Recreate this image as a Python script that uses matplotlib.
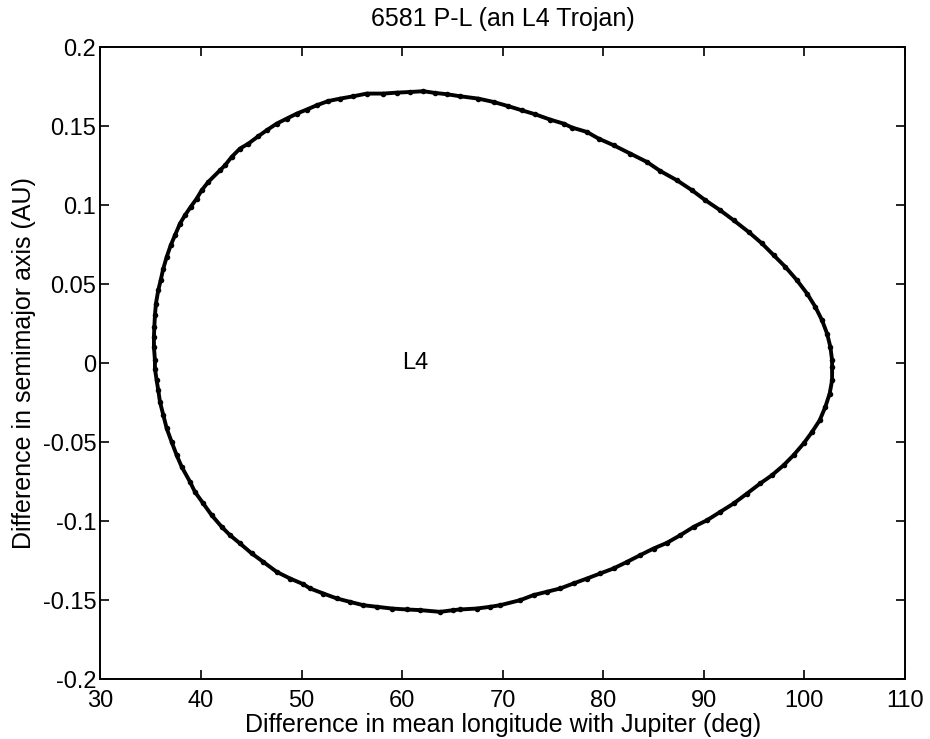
import numpy as np
import matplotlib
matplotlib.use("Agg")
import matplotlib.pyplot as plt

# points, going round the loop
# (lon in deg, da in AU)
lon = [
    35.42, 35.32, 35.32, 35.36, 35.42, 35.52, 35.75, 35.99, 36.25, 36.59,
    36.99, 37.41, 37.91, 38.41, 38.97, 39.57, 40.07, 40.73, 41.89, 42.39,
    43.05, 43.88, 44.71, 45.70, 46.54, 47.53, 48.53, 49.52, 50.52, 51.51,
    52.67, 53.83, 55.16, 56.49, 58.14, 59.47, 60.80, 62.12, 63.28,
    64.45, 65.77, 67.59, 69.09, 70.58, 71.91, 73.23, 74.73, 76.05, 76.89,
    78.38, 79.54, 81.03, 82.69, 84.35, 85.67, 87.33, 88.83, 90.15, 91.64,
    92.97, 94.46, 95.79, 96.95, 98.11, 99.27, 100.27, 101.09, 101.76, 102.26,
    102.59, 102.76,
    102.76, 102.76, 102.52, 102.09, 101.53, 100.77, 99.93, 98.93, 97.94, 96.78,
    95.62, 94.30, 92.97, 91.64, 90.32, 88.99, 87.66, 86.34, 85.01, 83.68,
    82.36, 81.03, 79.70, 78.38, 77.05, 75.72, 74.40, 73.07, 71.74, 69.75,
    68.76, 67.43, 65.77,
    65.10, 63.78, 61.79, 60.47, 58.98, 57.48, 56.15, 54.83, 53.50, 52.17,
    50.85, 50.18, 48.86, 47.53, 46.20, 45.04, 43.88, 42.89, 42.06, 41.06,
    40.23, 39.40, 38.91, 38.08, 37.58, 37.08, 36.59, 36.25, 35.92, 35.75,
    35.59, 35.42,
]
da = [
    0.0019, 0.0103, 0.0167, 0.0230, 0.0304, 0.0378, 0.0462, 0.0525, 0.0599, 0.0673,
    0.0747, 0.0810, 0.0884, 0.0937, 0.0989, 0.1042, 0.1095, 0.1148, 0.1222, 0.1253,
    0.1306, 0.1359, 0.1390, 0.1437, 0.1475, 0.1517, 0.1549, 0.1580, 0.1606, 0.1633,
    0.1660, 0.1675, 0.1690, 0.1707, 0.1707, 0.1713, 0.1717, 0.1722, 0.1711,
    0.1703, 0.1690, 0.1675, 0.1654, 0.1627, 0.1601, 0.1576, 0.1542, 0.1517, 0.1492,
    0.1464, 0.1422, 0.1380, 0.1327, 0.1274, 0.1217, 0.1158, 0.1095, 0.1032, 0.0968,
    0.0905, 0.0831, 0.0758, 0.0684, 0.0610, 0.0525, 0.0441, 0.0357, 0.0272, 0.0188,
    0.0103, 0.0019,
    -0.0023, -0.0108, -0.0192, -0.0276, -0.0361, -0.0435, -0.0508, -0.0582, -0.0646, -0.0709,
    -0.0761, -0.0825, -0.0888, -0.0941, -0.0994, -0.1036, -0.1089, -0.1137, -0.1173, -0.1215,
    -0.1258, -0.1299, -0.1331, -0.1363, -0.1394, -0.1426, -0.1447, -0.1468, -0.1500, -0.1532,
    -0.1542, -0.1553, -0.1559,
    -0.1563, -0.1574, -0.1563, -0.1559, -0.1553, -0.1542, -0.1532, -0.1511, -0.1489, -0.1458,
    -0.1426, -0.1399, -0.1363, -0.1321, -0.1258, -0.1204, -0.1141, -0.1089, -0.1036, -0.0962,
    -0.0888, -0.0815, -0.0751, -0.0656, -0.0582, -0.0498, -0.0413, -0.0329, -0.0245, -0.0171,
    -0.0108, -0.0034,
]

xticks = [30, 40, 50, 60, 70, 80, 90, 100, 110]
yticks = [-0.2, -0.15, -0.1, -0.05, 0, 0.05, 0.1, 0.15, 0.2]
ytick_labels = ["-0.2", "-0.15", "-0.1", "-0.05", "0", "0.05", "0.1", "0.15", "0.2"]

plt.rcParams["font.family"] = ["Liberation Sans", "DejaVu Sans"]

fig = plt.figure(figsize=(9.3, 7.39), dpi=100)
ax = fig.add_axes([0.108, 0.081, 0.865, 0.855])

# the orbit is sampled densely in the scan, so join the read points as well
ax.plot(lon + lon[:1], da + da[:1], "-", color="k", lw=2.8)
ax.plot(lon, da, "o", color="k", markersize=4, markeredgewidth=0)

ax.text(60, 0, "L4", ha="left", va="center", fontsize=17)

ax.set_xlim(30, 110)
ax.set_ylim(-0.2, 0.2)
ax.set_xticks(xticks)
ax.set_yticks(yticks)
ax.set_yticklabels(ytick_labels)
ax.tick_params(direction="in", length=6.5, width=1.2, top=True, right=True, labelsize=17)
ax.tick_params(axis="x", pad=7.5)
ax.tick_params(axis="y", pad=3)
for s in ax.spines.values():
    s.set_linewidth(1.4)

ax.set_title("6581 P-L (an L4 Trojan)", fontsize=18, pad=15)
ax.set_xlabel("Difference in mean longitude with Jupiter (deg)", fontsize=18, labelpad=1)
ax.set_ylabel("Difference in semimajor axis (AU)", fontsize=18, labelpad=5)

fig.savefig("out.png", dpi=100)
